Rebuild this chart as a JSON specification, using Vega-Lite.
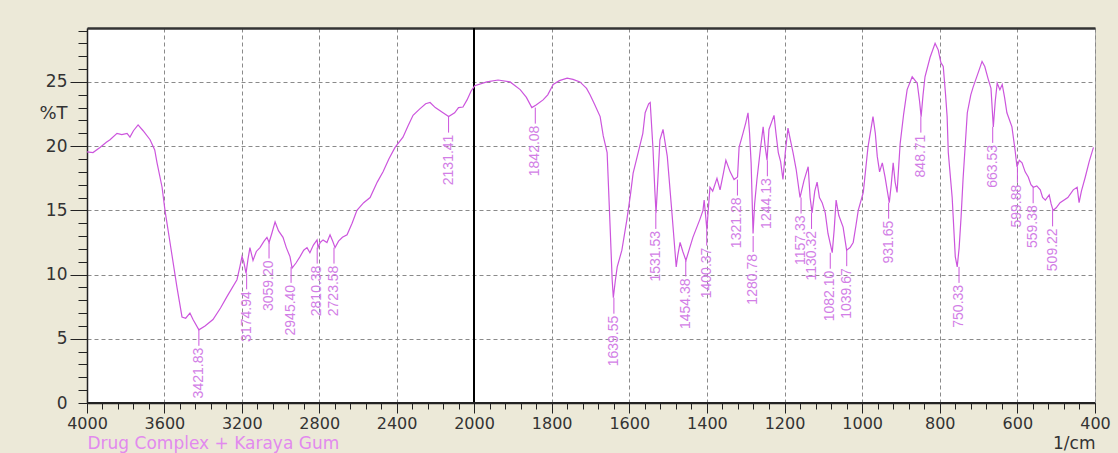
{
  "$schema": "https://vega.github.io/schema/vega-lite/v6.json",
  "width": 1008,
  "height": 375,
  "autosize": "none",
  "padding": {"left": 87, "top": 28, "right": 23, "bottom": 50},
  "background": "#ECE9D8",
  "config": {
    "view": {"fill": "white", "stroke": "#aaaaaa", "strokeWidth": 1},
    "axis": {"labelFont": "DejaVu Sans", "titleFont": "DejaVu Sans", "titleFontWeight": "normal"}
  },
  "datasets": {
    "spectrum": [
      {"wn":4000,"T":19.55},{"wn":3969,"T":19.5},{"wn":3933,"T":19.9},{"wn":3900,"T":20.3},{"wn":3881,"T":20.5},
      {"wn":3845,"T":21.0},{"wn":3820,"T":20.9},{"wn":3793,"T":21.0},{"wn":3778,"T":20.7},{"wn":3760,"T":21.2},
      {"wn":3736,"T":21.65},{"wn":3710,"T":21.2},{"wn":3674,"T":20.5},{"wn":3650,"T":19.7},{"wn":3638,"T":18.7},
      {"wn":3612,"T":16.8},{"wn":3597,"T":15.0},{"wn":3571,"T":12.5},{"wn":3535,"T":9.0},{"wn":3509,"T":6.7},
      {"wn":3490,"T":6.6},{"wn":3468,"T":7.0},{"wn":3452,"T":6.5},{"wn":3421.83,"T":5.7},{"wn":3390,"T":6.0},
      {"wn":3349,"T":6.5},{"wn":3310,"T":7.4},{"wn":3276,"T":8.3},{"wn":3225,"T":9.6},{"wn":3210,"T":10.6},
      {"wn":3199,"T":11.4},{"wn":3190,"T":11.0},{"wn":3178,"T":10.1},{"wn":3168,"T":11.2},{"wn":3158,"T":12.1},
      {"wn":3142,"T":11.1},{"wn":3125,"T":11.8},{"wn":3106,"T":12.1},{"wn":3085,"T":12.6},{"wn":3070,"T":12.9},
      {"wn":3059,"T":12.5},{"wn":3045,"T":13.2},{"wn":3028,"T":14.1},{"wn":3010,"T":13.4},{"wn":2987,"T":12.9},
      {"wn":2970,"T":12.1},{"wn":2951,"T":11.4},{"wn":2940,"T":10.5},{"wn":2920,"T":10.9},{"wn":2899,"T":11.4},
      {"wn":2880,"T":11.9},{"wn":2863,"T":12.1},{"wn":2848,"T":11.7},{"wn":2830,"T":12.3},{"wn":2811,"T":12.7},
      {"wn":2806,"T":12.1},{"wn":2795,"T":12.5},{"wn":2780,"T":12.7},{"wn":2760,"T":12.5},{"wn":2744,"T":13.1},
      {"wn":2730,"T":12.6},{"wn":2718,"T":12.1},{"wn":2700,"T":12.6},{"wn":2680,"T":12.9},{"wn":2656,"T":13.1},
      {"wn":2630,"T":14.0},{"wn":2605,"T":15.0},{"wn":2570,"T":15.6},{"wn":2537,"T":16.0},{"wn":2500,"T":17.2},
      {"wn":2470,"T":18.0},{"wn":2440,"T":19.0},{"wn":2408,"T":19.9},{"wn":2367,"T":20.7},{"wn":2340,"T":21.6},
      {"wn":2315,"T":22.4},{"wn":2280,"T":22.9},{"wn":2250,"T":23.3},{"wn":2227,"T":23.4},{"wn":2200,"T":23.0},
      {"wn":2160,"T":22.6},{"wn":2131,"T":22.3},{"wn":2100,"T":22.6},{"wn":2080,"T":23.0},{"wn":2057,"T":23.05},
      {"wn":2036,"T":23.6},{"wn":2015,"T":24.3},{"wn":1998,"T":24.7},{"wn":1967,"T":25.0},{"wn":1938,"T":25.15},
      {"wn":1907,"T":25.0},{"wn":1881,"T":24.4},{"wn":1865,"T":23.8},{"wn":1851,"T":23.0},{"wn":1840,"T":23.2},
      {"wn":1822,"T":23.6},{"wn":1810,"T":24.0},{"wn":1796,"T":24.8},{"wn":1780,"T":25.1},{"wn":1760,"T":25.3},
      {"wn":1745,"T":25.2},{"wn":1727,"T":25.0},{"wn":1710,"T":24.5},{"wn":1701,"T":24.0},{"wn":1690,"T":23.3},
      {"wn":1675,"T":22.3},{"wn":1667,"T":20.8},{"wn":1657,"T":19.5},{"wn":1649,"T":13.5},{"wn":1644,"T":9.6},
      {"wn":1641,"T":8.2},{"wn":1636,"T":9.5},{"wn":1631,"T":10.6},{"wn":1619,"T":11.9},{"wn":1606,"T":14.3},
      {"wn":1597,"T":16.2},{"wn":1590,"T":17.9},{"wn":1577,"T":19.5},{"wn":1565,"T":21.0},{"wn":1559,"T":22.6},
      {"wn":1550,"T":23.3},{"wn":1546,"T":23.4},{"wn":1539,"T":19.9},{"wn":1534,"T":16.5},{"wn":1531,"T":14.8},
      {"wn":1527,"T":17.0},{"wn":1521,"T":20.5},{"wn":1513,"T":21.3},{"wn":1502,"T":19.2},{"wn":1490,"T":14.8},
      {"wn":1479,"T":10.6},{"wn":1475,"T":11.5},{"wn":1469,"T":12.5},{"wn":1462,"T":11.8},{"wn":1454,"T":11.1},
      {"wn":1445,"T":12.0},{"wn":1436,"T":12.9},{"wn":1418,"T":14.3},{"wn":1410,"T":15.0},{"wn":1407,"T":15.8},
      {"wn":1403,"T":14.5},{"wn":1400,"T":13.5},{"wn":1396,"T":15.2},{"wn":1392,"T":16.8},{"wn":1385,"T":16.5},
      {"wn":1374,"T":17.5},{"wn":1366,"T":16.6},{"wn":1358,"T":17.8},{"wn":1351,"T":18.9},{"wn":1340,"T":18.0},
      {"wn":1330,"T":17.4},{"wn":1321,"T":17.6},{"wn":1317,"T":19.9},{"wn":1307,"T":21.0},{"wn":1300,"T":21.8},
      {"wn":1294,"T":22.6},{"wn":1290,"T":21.0},{"wn":1286,"T":18.7},{"wn":1281,"T":13.2},{"wn":1277,"T":15.5},
      {"wn":1271,"T":17.4},{"wn":1262,"T":19.8},{"wn":1255,"T":21.5},{"wn":1250,"T":20.0},{"wn":1245,"T":18.9},
      {"wn":1240,"T":21.3},{"wn":1227,"T":22.4},{"wn":1222,"T":21.0},{"wn":1216,"T":19.5},{"wn":1210,"T":18.8},
      {"wn":1204,"T":17.4},{"wn":1198,"T":19.5},{"wn":1191,"T":21.4},{"wn":1185,"T":20.5},{"wn":1178,"T":19.5},
      {"wn":1170,"T":18.2},{"wn":1160,"T":16.0},{"wn":1150,"T":17.3},{"wn":1139,"T":18.4},{"wn":1134,"T":16.0},
      {"wn":1129,"T":14.8},{"wn":1122,"T":16.5},{"wn":1116,"T":17.2},{"wn":1110,"T":16.0},{"wn":1103,"T":15.6},
      {"wn":1095,"T":14.8},{"wn":1088,"T":13.2},{"wn":1077,"T":11.7},{"wn":1072,"T":13.5},{"wn":1067,"T":15.8},
      {"wn":1060,"T":14.6},{"wn":1049,"T":13.7},{"wn":1040,"T":11.9},{"wn":1031,"T":12.1},{"wn":1023,"T":12.5},
      {"wn":1016,"T":13.8},{"wn":1010,"T":15.0},{"wn":997,"T":16.4},{"wn":985,"T":19.9},{"wn":972,"T":22.3},
      {"wn":966,"T":21.0},{"wn":961,"T":19.2},{"wn":955,"T":18.0},{"wn":948,"T":18.7},{"wn":941,"T":17.6},
      {"wn":935,"T":16.5},{"wn":930,"T":15.6},{"wn":925,"T":17.0},{"wn":920,"T":18.7},{"wn":915,"T":17.2},
      {"wn":910,"T":16.4},{"wn":902,"T":20.2},{"wn":893,"T":22.5},{"wn":884,"T":24.4},{"wn":871,"T":25.4},
      {"wn":858,"T":24.9},{"wn":852,"T":23.5},{"wn":848,"T":22.3},{"wn":843,"T":24.0},{"wn":838,"T":25.4},
      {"wn":825,"T":26.9},{"wn":812,"T":28.0},{"wn":804,"T":27.5},{"wn":797,"T":26.5},{"wn":791,"T":26.2},
      {"wn":785,"T":24.0},{"wn":781,"T":22.3},{"wn":778,"T":19.5},{"wn":768,"T":16.0},{"wn":760,"T":11.4},
      {"wn":755,"T":10.6},{"wn":750,"T":12.1},{"wn":745,"T":14.5},{"wn":740,"T":17.4},{"wn":729,"T":22.6},
      {"wn":720,"T":24.0},{"wn":714,"T":24.6},{"wn":700,"T":25.8},{"wn":691,"T":26.6},{"wn":684,"T":26.2},
      {"wn":675,"T":25.2},{"wn":668,"T":24.5},{"wn":662,"T":21.5},{"wn":657,"T":23.5},{"wn":652,"T":24.9},
      {"wn":645,"T":24.4},{"wn":639,"T":24.8},{"wn":633,"T":23.8},{"wn":627,"T":22.6},{"wn":614,"T":21.5},
      {"wn":606,"T":19.7},{"wn":601,"T":18.4},{"wn":595,"T":18.9},{"wn":588,"T":18.7},{"wn":580,"T":18.0},
      {"wn":572,"T":17.6},{"wn":565,"T":17.0},{"wn":559,"T":16.8},{"wn":550,"T":16.9},{"wn":541,"T":16.6},
      {"wn":535,"T":16.0},{"wn":528,"T":15.8},{"wn":518,"T":16.2},{"wn":513,"T":15.5},{"wn":508,"T":15.0},
      {"wn":500,"T":15.2},{"wn":490,"T":15.6},{"wn":470,"T":16.0},{"wn":456,"T":16.6},{"wn":446,"T":16.8},
      {"wn":441,"T":15.6},{"wn":435,"T":16.5},{"wn":425,"T":17.6},{"wn":415,"T":18.8},{"wn":404,"T":19.9}
    ],
    "peaks": [
      {"wn":3421.83,"T":5.7},{"wn":3174.94,"T":10.1},{"wn":3059.20,"T":12.5},{"wn":2945.40,"T":10.6},
      {"wn":2810.38,"T":12.1},{"wn":2723.58,"T":12.1},{"wn":2131.41,"T":22.3},{"wn":1842.08,"T":23.0},
      {"wn":1639.55,"T":8.2},{"wn":1531.53,"T":14.8},{"wn":1454.38,"T":11.1},{"wn":1400.37,"T":13.5},
      {"wn":1321.28,"T":17.4},{"wn":1280.78,"T":13.0},{"wn":1244.13,"T":18.9},{"wn":1157.33,"T":16.0},
      {"wn":1130.32,"T":14.8},{"wn":1082.10,"T":11.7},{"wn":1039.67,"T":11.9},{"wn":931.65,"T":15.6},
      {"wn":848.71,"T":22.3},{"wn":750.33,"T":10.6},{"wn":663.53,"T":21.5},{"wn":599.88,"T":18.4},
      {"wn":559.38,"T":16.8},{"wn":509.22,"T":15.0}
    ]
  },
  "resolve": {"axis": {"x": "independent", "y": "independent"}},
  "layer": [
    {
      "data": {"name": "spectrum"},
      "mark": {"type": "rule", "color": "#000000", "strokeWidth": 1.5},
      "encoding": {
        "x": {"datum": 2000, "type": "quantitative",
          "scale": {"type": "linear", "domain": [4000, 2000, 400], "range": [0, 387, 1008], "nice": false, "zero": false},
          "axis": {
            "orient": "bottom",
            "values": [4000,3920,3840,3760,3680,3600,3520,3440,3360,3280,3200,3120,3040,2960,2880,2800,2720,2640,2560,2480,2400,2320,2240,2160,2080,2000,1960,1920,1880,1840,1800,1760,1720,1680,1640,1600,1560,1520,1480,1440,1400,1360,1320,1280,1240,1200,1160,1120,1080,1040,1000,960,920,880,840,800,760,720,680,640,600,560,520,480,440,400],
            "labels": false, "domain": false, "grid": false, "tickSize": 6, "tickColor": "#222",
            "title": "Drug Complex + Karaya Gum", "titleColor": "#e28aee", "titleFont": "DejaVu Sans", "titleFontSize": 17,
            "titleX": 0, "titleY": 40, "titleAlign": "left", "titleBaseline": "middle", "titleAnchor": "start"
          }
        }
      }
    },
    {
      "data": {"name": "spectrum"},
      "mark": {"type": "rule", "color": "#222222"},
      "encoding": {
        "y": {"datum": 0, "type": "quantitative",
          "scale": {"domain": [0, 29.2], "nice": false, "zero": false},
          "axis": {
            "orient": "left",
            "values": [0,1,2,3,4,5,6,7,8,9,10,11,12,13,14,15,16,17,18,19,20,21,22,23,24,25,26,27,28,29],
            "labelExpr": "datum.value == 0 ? '0' : ''", "labelFontSize": 17, "labelColor": "#333333", "labelPadding": 11,
            "domain": false, "grid": false, "tickSize": 9, "tickColor": "#222", "title": null
          }
        }
      }
    },
    {
      "data": {"name": "spectrum"},
      "mark": {"type": "line", "color": "#cc55dd", "strokeWidth": 1.2},
      "encoding": {
        "x": {"field": "wn", "type": "quantitative",
          "axis": {
            "orient": "bottom",
            "values": [4000,3600,3200,2800,2400,2000,1800,1600,1400,1200,1000,800,600,400],
            "format": "d",
            "title": "1/cm", "titleFontSize": 17, "titleColor": "#333333", "titleX": 1008, "titleY": 40,
            "titleAlign": "right", "titleBaseline": "middle", "titleAnchor": "end",
            "grid": true, "gridDash": [4, 3], "gridColor": "#8a8a8a", "gridWidth": 1,
            "tickSize": 10, "tickColor": "#222", "domainColor": "#222", "domainWidth": 1.5,
            "labelFontSize": 16, "labelColor": "#333333", "labelPadding": 2, "labelFlush": false, "labelOverlap": false
          }
        },
        "y": {"field": "T", "type": "quantitative",
          "axis": {
            "orient": "left",
            "values": [5, 10, 15, 20, 25],
            "title": "%T", "titleFontSize": 18, "titleColor": "#333333", "titleAngle": 0,
            "titleX": -20, "titleY": 85, "titleAlign": "right", "titleBaseline": "middle",
            "grid": true, "gridDash": [4, 3], "gridColor": "#8a8a8a", "gridWidth": 1,
            "tickSize": 17, "tickColor": "#222", "domainColor": "#222", "domainWidth": 1.5,
            "labelFontSize": 17, "labelColor": "#333333", "labelPadding": 3
          }
        }
      }
    },
    {
      "data": {"name": "peaks"},
      "mark": {"type": "rule", "color": "#cc55dd", "strokeWidth": 1, "y2Offset": 16},
      "encoding": {
        "x": {"field": "wn", "type": "quantitative",
          "axis": {"orient": "top", "labels": false, "ticks": false, "grid": false, "domainColor": "#333333", "domainWidth": 2.5, "title": null}
        },
        "y": {"field": "T", "type": "quantitative", "axis": null},
        "y2": {"field": "T"}
      }
    },
    {
      "data": {"name": "peaks"},
      "mark": {"type": "text", "angle": 270, "align": "right", "baseline": "middle", "yOffset": 18,
        "font": "Liberation Sans", "fontSize": 14, "color": "#d27ee6"},
      "encoding": {
        "x": {"field": "wn", "type": "quantitative", "axis": null},
        "y": {"field": "T", "type": "quantitative", "axis": null},
        "text": {"field": "wn", "type": "quantitative", "format": ".2f"}
      }
    }
  ]
}
